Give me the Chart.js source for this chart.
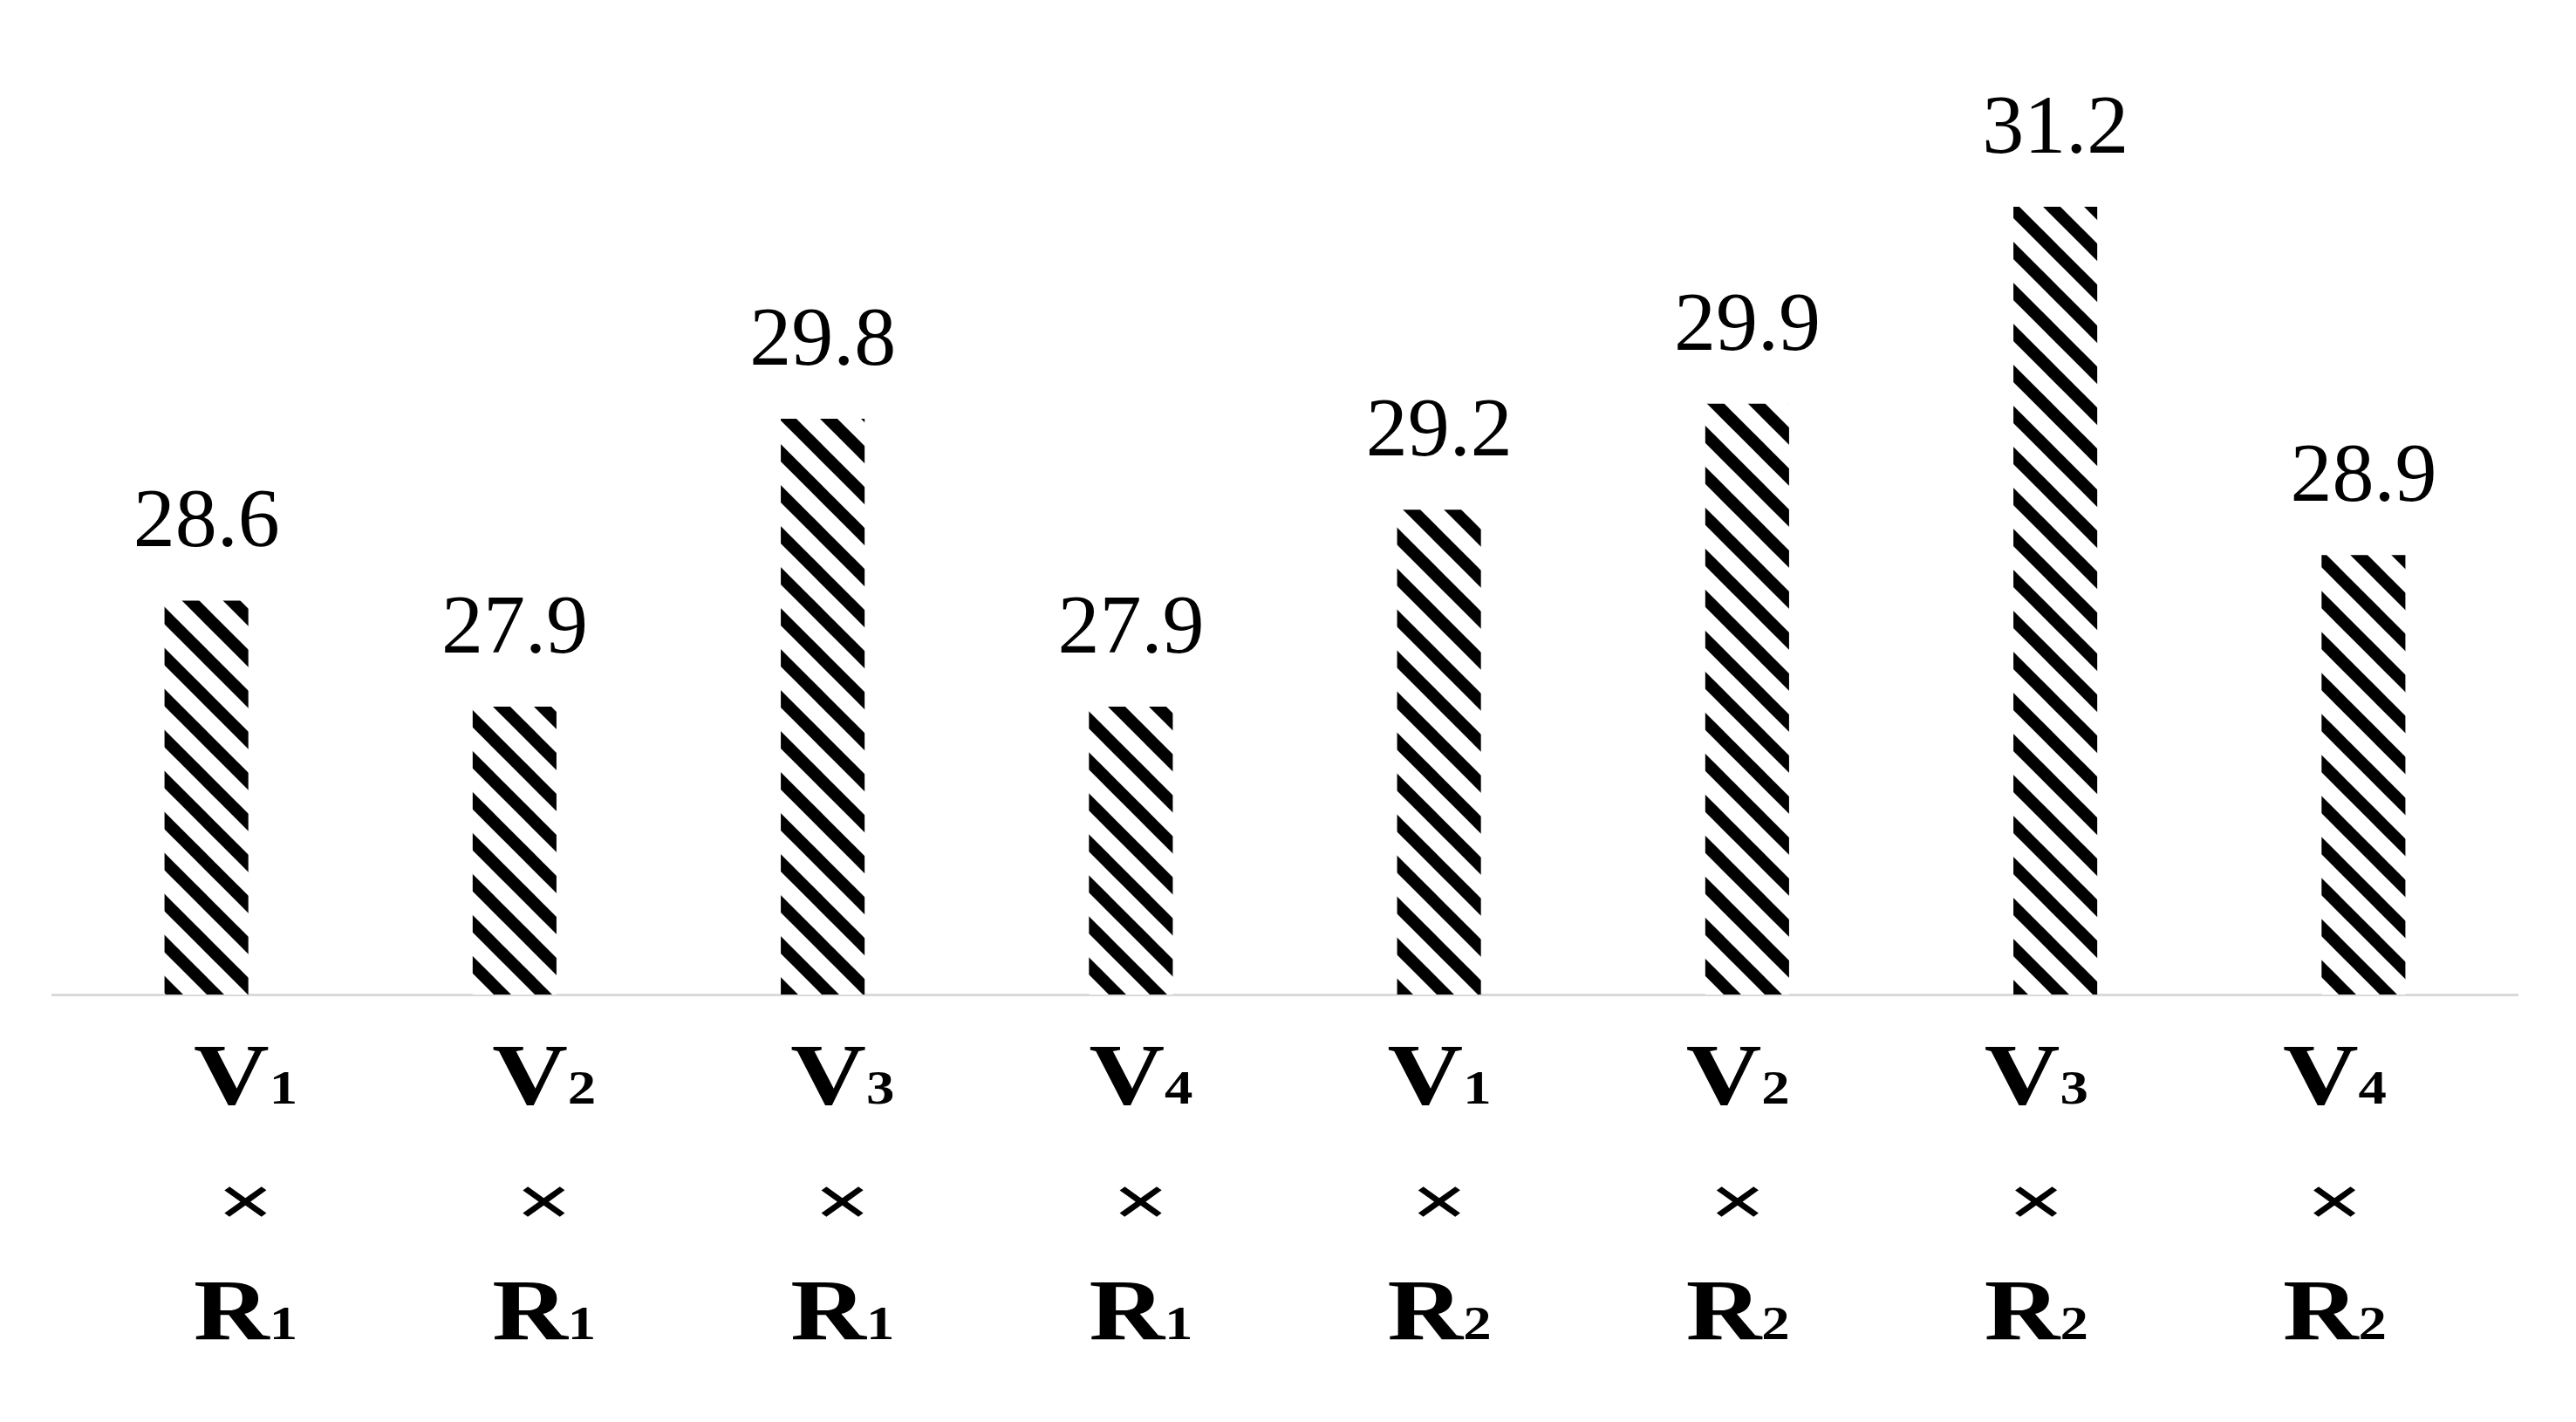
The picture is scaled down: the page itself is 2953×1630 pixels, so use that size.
<!DOCTYPE html>
<html>
<head>
<meta charset="utf-8">
<script src="https://cdn.jsdelivr.net/npm/chart.js@4.4.0/dist/chart.umd.min.js"></script>
<style>
  html, body { margin: 0; padding: 0; background: #fff; }
</style>
</head>
<body>
<canvas id="chart" width="2953" height="1630"></canvas>
<script>
// Treatment combinations: variety (V) x rate (R)
const varietyNo = ['1', '2', '3', '4', '1', '2', '3', '4'];
const rateNo = ['1', '1', '1', '1', '2', '2', '2', '2'];
const categories = varietyNo.map((v, i) => 'V' + v + ' × R' + rateNo[i]);
const yieldValues = [28.6, 27.9, 29.8, 27.9, 29.2, 29.9, 31.2, 28.9];
const yMin = 26;
const yMax = 32;

const serif = '"Liberation Serif", "Times New Roman", serif';

// Diagonal hatch fill (\\\\) like the Excel "wide downward diagonal" pattern
function makeHatch() {
  const s = 47;
  const tile = document.createElement('canvas');
  tile.width = s;
  tile.height = s;
  const t = tile.getContext('2d');
  t.fillStyle = '#fff';
  t.fillRect(0, 0, s, s);
  t.strokeStyle = '#000';
  t.lineWidth = 14;
  for (let k = -1; k <= 1; k++) {
    t.beginPath();
    t.moveTo(k * s - s, -s);
    t.lineTo(k * s + 2 * s, 2 * s);
    t.stroke();
  }
  return document.getElementById('chart').getContext('2d').createPattern(tile, 'repeat');
}

// Value labels above each bar
const valueLabels = {
  id: 'valueLabels',
  afterDatasetsDraw(chart) {
    const ctx = chart.ctx;
    const meta = chart.getDatasetMeta(0);
    ctx.save();
    ctx.fillStyle = '#000';
    ctx.font = '96px ' + serif;
    ctx.textAlign = 'center';
    ctx.textBaseline = 'alphabetic';
    meta.data.forEach((bar, i) => {
      ctx.fillText(yieldValues[i].toFixed(1), bar.x, bar.y - 62);
    });
    ctx.restore();
  }
};

// letter + same-baseline small index, stretched a little wider
function drawSub(ctx, main, sub, cx, y) {
  const sx = 1.2;
  ctx.font = 'bold 100px ' + serif;
  const w1 = ctx.measureText(main).width;
  ctx.font = 'bold 54px ' + serif;
  const w2 = ctx.measureText(sub).width;
  ctx.save();
  ctx.translate(cx, y);
  ctx.scale(sx, 1);
  const x = -(w1 + w2) / 2;
  ctx.textAlign = 'left';
  ctx.textBaseline = 'alphabetic';
  ctx.font = 'bold 100px ' + serif;
  ctx.fillText(main, x, 0);
  ctx.font = 'bold 54px ' + serif;
  ctx.fillText(sub, x + w1, 0);
  ctx.restore();
}

// Three-line category labels: V(n) / x / R(n)
const comboLabels = {
  id: 'comboLabels',
  afterDraw(chart) {
    const ctx = chart.ctx;
    const xs = chart.scales.x;
    const area = chart.chartArea;
    const base = area.bottom;
    const mid = (area.left + area.right) / 2;
    ctx.save();
    ctx.fillStyle = '#000';
    categories.forEach((c, i) => {
      const cx = mid + (xs.getPixelForValue(i) - mid) * 0.9685 + 6;
      drawSub(ctx, 'V', varietyNo[i], cx, base + 125);
      ctx.save();
      ctx.translate(cx, base + 244);
      ctx.scale(1.05, 0.75);
      ctx.font = 'bold 110px ' + serif;
      ctx.textAlign = 'center';
      ctx.textBaseline = 'middle';
      ctx.fillText('×', 0, 0);
      ctx.restore();
      drawSub(ctx, 'R', rateNo[i], cx, base + 395);
    });
    ctx.restore();
  }
};

new Chart(document.getElementById('chart'), {
  type: 'bar',
  data: {
    labels: categories,
    datasets: [{
      data: yieldValues,
      backgroundColor: makeHatch(),
      borderWidth: 0,
      barPercentage: 0.272,
      categoryPercentage: 1
    }]
  },
  options: {
    responsive: false,
    animation: false,
    layout: { padding: { left: 60, right: 67, top: 98, bottom: 482 } },
    plugins: { legend: { display: false }, tooltip: { enabled: false } },
    scales: {
      x: {
        grid: { display: false },
        border: { display: true, color: '#d9d9d9', width: 3 },
        ticks: { display: false }
      },
      y: { display: false, min: yMin, max: yMax }
    }
  },
  plugins: [valueLabels, comboLabels]
});
</script>
</body>
</html>
